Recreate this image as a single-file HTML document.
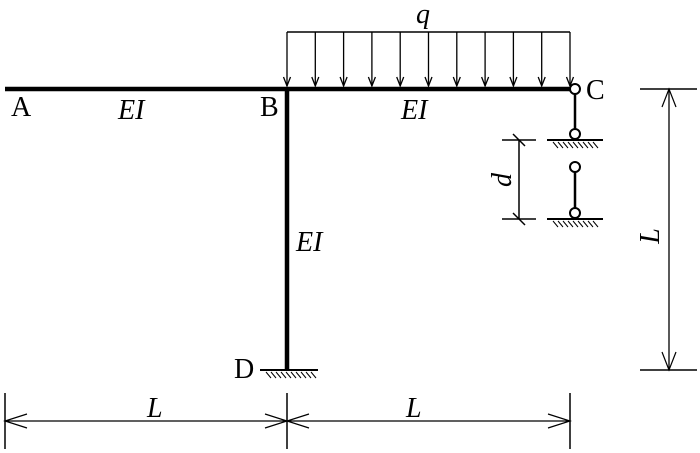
<!DOCTYPE html>
<html><head><style>
body{margin:0;background:#fff;position:relative;width:700px;height:453px;overflow:hidden}
svg{display:block;position:absolute;left:0;top:0}
.t{position:absolute;font-family:"Liberation Serif","Times New Roman",serif;font-size:28px;line-height:28px;color:#000;white-space:nowrap}
.i{font-style:italic}
</style></head><body>
<svg width="700" height="453" viewBox="0 0 700 453" xmlns="http://www.w3.org/2000/svg">
<g stroke="#000" fill="none">
<line x1="5" y1="89" x2="570" y2="89" stroke-width="4.5"/>
<line x1="287" y1="87" x2="287" y2="370" stroke-width="4.5"/>
<line x1="287" y1="32" x2="570" y2="32" stroke-width="1.5"/>
<g stroke-width="1.3">
<path d="M287,32V86M315.3,32V86M343.6,32V86M371.9,32V86M400.2,32V86M428.5,32V86M456.8,32V86M485.1,32V86M513.4,32V86M541.7,32V86M570,32V86"/>
<path d="M283.5,77L287,86L290.5,77M311.8,77L315.3,86L318.8,77M340.1,77L343.6,86L347.1,77M368.4,77L371.9,86L375.4,77M396.7,77L400.2,86L403.7,77M425,77L428.5,86L432,77M453.3,77L456.8,86L460.3,77M481.6,77L485.1,86L488.6,77M509.9,77L513.4,86L516.9,77M538.2,77L541.7,86L545.2,77M566.5,77L570,86L573.5,77"/>
</g>
<line x1="260" y1="370" x2="318" y2="370" stroke-width="2"/>
<path d="M266,372l5,6M271,372l5,6M276,372l5,6M281,372l5,6M286,372l5,6M291,372l5,6M296,372l5,6M301,372l5,6M306,372l5,6M311,372l5,6" stroke-width="1"/>
<line x1="575" y1="94" x2="575" y2="129" stroke-width="2.5"/>
<circle cx="575" cy="89" r="5" fill="#fff" stroke-width="2"/>
<circle cx="575" cy="134" r="5" fill="#fff" stroke-width="2"/>
<line x1="547" y1="140" x2="603" y2="140" stroke-width="2"/>
<path d="M553,142l5,6M558,142l5,6M563,142l5,6M568,142l5,6M573,142l5,6M578,142l5,6M583,142l5,6M588,142l5,6M593,142l5,6" stroke-width="1"/>
<line x1="575" y1="172" x2="575" y2="208" stroke-width="2.5"/>
<circle cx="575" cy="167" r="5" fill="#fff" stroke-width="2"/>
<circle cx="575" cy="213" r="5" fill="#fff" stroke-width="2"/>
<line x1="547" y1="219" x2="603" y2="219" stroke-width="2"/>
<path d="M553,221l5,6M558,221l5,6M563,221l5,6M568,221l5,6M573,221l5,6M578,221l5,6M583,221l5,6M588,221l5,6M593,221l5,6" stroke-width="1"/>
<line x1="502" y1="140" x2="536" y2="140" stroke-width="1.5"/>
<line x1="502" y1="219" x2="536" y2="219" stroke-width="1.5"/>
<line x1="519" y1="140" x2="519" y2="219" stroke-width="1.5"/>
<line x1="513" y1="134" x2="525" y2="146" stroke-width="1.5"/>
<line x1="513" y1="213" x2="525" y2="225" stroke-width="1.5"/>
<line x1="640" y1="89" x2="697" y2="89" stroke-width="1.5"/>
<line x1="640" y1="370" x2="697" y2="370" stroke-width="1.5"/>
<line x1="669" y1="89" x2="669" y2="370" stroke-width="1.3"/>
<path d="M662,107L669,89L676,107M662,352L669,370L676,352" stroke-width="1.2"/>
<line x1="5" y1="421" x2="570" y2="421" stroke-width="1.3"/>
<line x1="5" y1="393" x2="5" y2="449" stroke-width="1.5"/>
<line x1="287" y1="393" x2="287" y2="449" stroke-width="1.5"/>
<line x1="570" y1="393" x2="570" y2="449" stroke-width="1.5"/>
<path d="M27,414L5,421L27,428M265,414L287,421L265,428M309,414L287,421L309,428M548,414L570,421L548,428" stroke-width="1.2"/>
</g>
</svg>
<div class="t i" style="left:416px;top:1px">q</div>
<div class="t" style="left:11px;top:94px">A</div>
<div class="t i" style="left:118px;top:97px">EI</div>
<div class="t" style="left:260px;top:94px">B</div>
<div class="t i" style="left:401px;top:97px">EI</div>
<div class="t" style="left:586px;top:77px">C</div>
<div class="t i" style="left:296px;top:229px">EI</div>
<div class="t" style="left:234px;top:356px">D</div>
<div class="t i" style="left:147px;top:395px">L</div>
<div class="t i" style="left:406px;top:395px">L</div>
<div class="t i" style="left:496px;top:166px;transform:rotate(-90deg);transform-origin:center">d</div>
<div class="t i" style="left:643px;top:222px;transform:rotate(-90deg);transform-origin:center">L</div>
</body></html>
